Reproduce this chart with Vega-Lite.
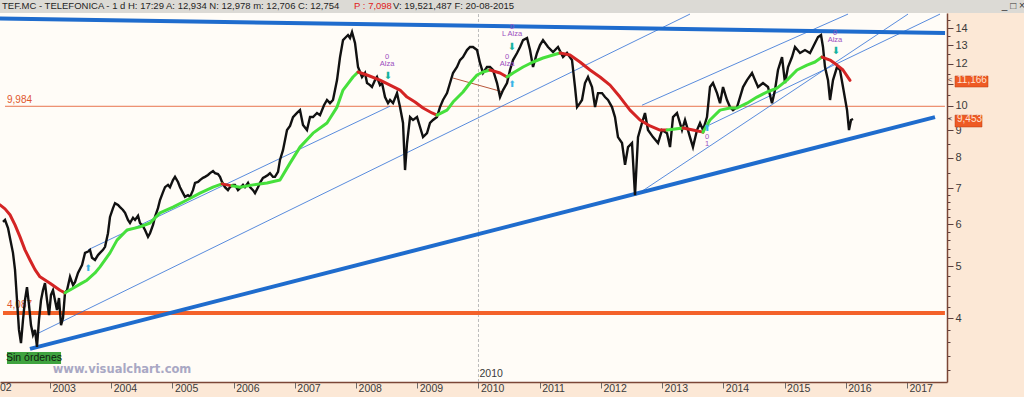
{
"$schema":"https://vega.github.io/schema/vega-lite/v6.json",
"width":947,"height":369,
"autosize":"none",
"padding":{"left":0,"top":13,"right":77,"bottom":15},
"background":"#FCE8D6",
"config":{"view":{"fill":"#FFFCF7","stroke":null},"text":{"font":"Liberation Sans Narrow, Liberation Sans, sans-serif"},
 "axisX":{"grid":false,"domainColor":"#7B4636","domainWidth":1.5,"tickColor":"#6B6B6B","tickSize":6,"labelAlign":"left","labelBaseline":"top","labelPadding":-5,"labelOffset":2,"labelFont":"Liberation Sans Narrow, Liberation Sans, sans-serif","labelFontSize":10.5,"labelColor":"#3A3A3A","labelFlush":false,"labelOverlap":false,"format":"d"},
 "axisY":{"grid":false,"domainColor":"#7B4636","domainWidth":1.5,"tickColor":"#5A4040","labelPadding":2,"labelFont":"Liberation Sans Narrow, Liberation Sans, sans-serif","labelFontSize":11,"labelColor":"#3A3A3A","labelOverlap":false,"labelFlush":false}},
"datasets":{
"precio":[{"t":2002.232,"p":6.06},{"t":2002.265,"p":6.11},{"t":2002.314,"p":5.90},{"t":2002.346,"p":5.65},{"t":2002.395,"p":5.30},{"t":2002.428,"p":4.93},{"t":2002.461,"p":4.32},{"t":2002.493,"p":3.80},{"t":2002.526,"p":3.59},{"t":2002.559,"p":3.97},{"t":2002.591,"p":4.32},{"t":2002.624,"p":4.57},{"t":2002.657,"p":4.23},{"t":2002.689,"p":3.88},{"t":2002.722,"p":3.72},{"t":2002.755,"p":3.80},{"t":2002.787,"p":3.53},{"t":2002.820,"p":3.97},{"t":2002.853,"p":4.32},{"t":2002.885,"p":4.51},{"t":2002.918,"p":4.65},{"t":2002.951,"p":4.32},{"t":2002.984,"p":4.05},{"t":2003.016,"p":4.42},{"t":2003.049,"p":4.51},{"t":2003.082,"p":4.32},{"t":2003.114,"p":4.14},{"t":2003.147,"p":4.36},{"t":2003.180,"p":3.88},{"t":2003.212,"p":4.00},{"t":2003.245,"p":4.46},{"t":2003.278,"p":4.51},{"t":2003.327,"p":4.78},{"t":2003.376,"p":4.61},{"t":2003.408,"p":4.67},{"t":2003.457,"p":4.86},{"t":2003.523,"p":5.03},{"t":2003.572,"p":5.30},{"t":2003.621,"p":5.33},{"t":2003.653,"p":5.37},{"t":2003.686,"p":5.19},{"t":2003.735,"p":5.14},{"t":2003.784,"p":5.25},{"t":2003.817,"p":5.30},{"t":2003.866,"p":5.37},{"t":2003.899,"p":5.44},{"t":2003.947,"p":5.77},{"t":2003.980,"p":6.19},{"t":2004.029,"p":6.43},{"t":2004.062,"p":6.57},{"t":2004.111,"p":6.52},{"t":2004.144,"p":6.46},{"t":2004.192,"p":6.38},{"t":2004.226,"p":6.30},{"t":2004.274,"p":6.11},{"t":2004.307,"p":6.03},{"t":2004.356,"p":6.17},{"t":2004.389,"p":6.11},{"t":2004.438,"p":6.22},{"t":2004.470,"p":6.03},{"t":2004.519,"p":5.95},{"t":2004.552,"p":5.85},{"t":2004.601,"p":5.68},{"t":2004.634,"p":5.77},{"t":2004.683,"p":5.98},{"t":2004.715,"p":6.19},{"t":2004.764,"p":6.43},{"t":2004.797,"p":6.66},{"t":2004.846,"p":6.89},{"t":2004.879,"p":7.04},{"t":2004.928,"p":7.11},{"t":2004.960,"p":7.04},{"t":2005.009,"p":7.26},{"t":2005.042,"p":7.36},{"t":2005.091,"p":7.20},{"t":2005.124,"p":7.04},{"t":2005.173,"p":6.86},{"t":2005.205,"p":6.75},{"t":2005.254,"p":6.80},{"t":2005.287,"p":6.75},{"t":2005.336,"p":6.95},{"t":2005.369,"p":7.17},{"t":2005.418,"p":7.20},{"t":2005.450,"p":7.26},{"t":2005.499,"p":7.33},{"t":2005.532,"p":7.36},{"t":2005.581,"p":7.42},{"t":2005.614,"p":7.48},{"t":2005.663,"p":7.55},{"t":2005.695,"p":7.48},{"t":2005.744,"p":7.45},{"t":2005.777,"p":7.36},{"t":2005.810,"p":7.20},{"t":2005.858,"p":7.04},{"t":2005.907,"p":6.95},{"t":2005.940,"p":7.04},{"t":2005.989,"p":7.11},{"t":2006.022,"p":7.11},{"t":2006.071,"p":6.95},{"t":2006.104,"p":7.01},{"t":2006.153,"p":7.11},{"t":2006.185,"p":7.04},{"t":2006.235,"p":7.17},{"t":2006.267,"p":7.04},{"t":2006.316,"p":6.95},{"t":2006.349,"p":6.86},{"t":2006.398,"p":7.04},{"t":2006.430,"p":7.17},{"t":2006.479,"p":7.33},{"t":2006.512,"p":7.36},{"t":2006.561,"p":7.42},{"t":2006.594,"p":7.48},{"t":2006.643,"p":7.36},{"t":2006.675,"p":7.36},{"t":2006.725,"p":7.52},{"t":2006.757,"p":7.92},{"t":2006.806,"p":8.26},{"t":2006.872,"p":9.01},{"t":2006.921,"p":9.17},{"t":2006.970,"p":9.53},{"t":2007.035,"p":9.70},{"t":2007.084,"p":9.82},{"t":2007.133,"p":9.21},{"t":2007.198,"p":9.01},{"t":2007.248,"p":9.53},{"t":2007.297,"p":9.53},{"t":2007.362,"p":9.70},{"t":2007.411,"p":9.61},{"t":2007.476,"p":10.03},{"t":2007.525,"p":10.26},{"t":2007.574,"p":10.12},{"t":2007.623,"p":10.26},{"t":2007.689,"p":11.18},{"t":2007.738,"p":12.35},{"t":2007.787,"p":13.29},{"t":2007.836,"p":13.47},{"t":2007.868,"p":13.58},{"t":2007.901,"p":13.41},{"t":2007.934,"p":13.76},{"t":2007.983,"p":13.12},{"t":2008.032,"p":11.83},{"t":2008.065,"p":11.58},{"t":2008.097,"p":11.33},{"t":2008.146,"p":11.53},{"t":2008.179,"p":11.04},{"t":2008.228,"p":10.94},{"t":2008.260,"p":10.85},{"t":2008.310,"p":11.18},{"t":2008.342,"p":11.33},{"t":2008.391,"p":10.94},{"t":2008.424,"p":11.04},{"t":2008.473,"p":10.39},{"t":2008.522,"p":10.12},{"t":2008.555,"p":10.26},{"t":2008.604,"p":10.12},{"t":2008.669,"p":10.57},{"t":2008.718,"p":9.95},{"t":2008.767,"p":9.29},{"t":2008.800,"p":7.58},{"t":2008.833,"p":8.52},{"t":2008.882,"p":9.53},{"t":2008.931,"p":9.41},{"t":2008.996,"p":9.53},{"t":2009.045,"p":9.13},{"t":2009.094,"p":8.74},{"t":2009.159,"p":8.89},{"t":2009.208,"p":9.29},{"t":2009.257,"p":9.41},{"t":2009.322,"p":9.53},{"t":2009.371,"p":9.95},{"t":2009.420,"p":10.26},{"t":2009.486,"p":10.57},{"t":2009.535,"p":11.04},{"t":2009.584,"p":11.53},{"t":2009.649,"p":11.83},{"t":2009.698,"p":12.19},{"t":2009.747,"p":12.35},{"t":2009.812,"p":12.73},{"t":2009.861,"p":12.90},{"t":2009.910,"p":12.90},{"t":2009.976,"p":12.73},{"t":2010.025,"p":12.03},{"t":2010.074,"p":11.53},{"t":2010.139,"p":11.83},{"t":2010.188,"p":11.83},{"t":2010.237,"p":11.68},{"t":2010.303,"p":11.04},{"t":2010.352,"p":10.39},{"t":2010.401,"p":10.71},{"t":2010.466,"p":11.04},{"t":2010.515,"p":11.68},{"t":2010.564,"p":12.19},{"t":2010.630,"p":12.57},{"t":2010.679,"p":12.90},{"t":2010.728,"p":13.29},{"t":2010.793,"p":13.41},{"t":2010.842,"p":12.73},{"t":2010.891,"p":11.83},{"t":2010.956,"p":12.57},{"t":2011.005,"p":13.01},{"t":2011.054,"p":13.29},{"t":2011.136,"p":12.90},{"t":2011.218,"p":12.62},{"t":2011.299,"p":12.90},{"t":2011.381,"p":12.35},{"t":2011.446,"p":12.57},{"t":2011.528,"p":12.19},{"t":2011.577,"p":10.85},{"t":2011.610,"p":9.95},{"t":2011.658,"p":10.12},{"t":2011.691,"p":10.26},{"t":2011.740,"p":11.04},{"t":2011.789,"p":11.33},{"t":2011.855,"p":10.85},{"t":2011.904,"p":9.95},{"t":2011.953,"p":10.57},{"t":2012.018,"p":10.57},{"t":2012.067,"p":10.39},{"t":2012.116,"p":10.26},{"t":2012.181,"p":9.95},{"t":2012.230,"p":9.53},{"t":2012.279,"p":8.74},{"t":2012.345,"p":8.52},{"t":2012.394,"p":7.75},{"t":2012.443,"p":8.37},{"t":2012.508,"p":8.52},{"t":2012.557,"p":6.80},{"t":2012.606,"p":8.74},{"t":2012.671,"p":9.29},{"t":2012.720,"p":9.70},{"t":2012.769,"p":9.01},{"t":2012.851,"p":8.74},{"t":2012.933,"p":8.52},{"t":2012.998,"p":9.01},{"t":2013.080,"p":8.89},{"t":2013.129,"p":8.37},{"t":2013.178,"p":9.53},{"t":2013.243,"p":9.70},{"t":2013.325,"p":9.01},{"t":2013.374,"p":9.41},{"t":2013.455,"p":8.74},{"t":2013.504,"p":8.37},{"t":2013.570,"p":9.01},{"t":2013.619,"p":9.29},{"t":2013.668,"p":9.01},{"t":2013.733,"p":9.53},{"t":2013.782,"p":10.85},{"t":2013.831,"p":11.04},{"t":2013.897,"p":10.57},{"t":2013.946,"p":10.12},{"t":2013.995,"p":10.85},{"t":2014.060,"p":10.26},{"t":2014.109,"p":9.95},{"t":2014.158,"p":9.82},{"t":2014.224,"p":9.95},{"t":2014.273,"p":10.39},{"t":2014.322,"p":10.85},{"t":2014.387,"p":11.18},{"t":2014.469,"p":11.53},{"t":2014.518,"p":11.18},{"t":2014.567,"p":10.85},{"t":2014.648,"p":11.04},{"t":2014.730,"p":10.85},{"t":2014.795,"p":10.12},{"t":2014.844,"p":10.71},{"t":2014.893,"p":11.68},{"t":2014.959,"p":12.35},{"t":2015.008,"p":11.04},{"t":2015.057,"p":11.83},{"t":2015.122,"p":12.35},{"t":2015.171,"p":12.90},{"t":2015.253,"p":12.57},{"t":2015.334,"p":12.73},{"t":2015.416,"p":12.57},{"t":2015.498,"p":13.12},{"t":2015.547,"p":13.47},{"t":2015.596,"p":13.58},{"t":2015.628,"p":12.90},{"t":2015.661,"p":11.83},{"t":2015.710,"p":11.18},{"t":2015.743,"p":10.26},{"t":2015.792,"p":11.18},{"t":2015.857,"p":11.83},{"t":2015.906,"p":11.68},{"t":2015.955,"p":10.85},{"t":2016.021,"p":9.82},{"t":2016.053,"p":9.01},{"t":2016.086,"p":9.41},{"t":2016.119,"p":9.45}],
"media":[{"seg":"r1","tr":"baja","t":2002.183,"p":6.52},{"seg":"r1","tr":"baja","t":2002.265,"p":6.41},{"seg":"r1","tr":"baja","t":2002.346,"p":6.25},{"seg":"r1","tr":"baja","t":2002.428,"p":5.98},{"seg":"r1","tr":"baja","t":2002.510,"p":5.68},{"seg":"r1","tr":"baja","t":2002.591,"p":5.37},{"seg":"r1","tr":"baja","t":2002.673,"p":5.14},{"seg":"r1","tr":"baja","t":2002.755,"p":4.93},{"seg":"r1","tr":"baja","t":2002.836,"p":4.78},{"seg":"r1","tr":"baja","t":2003.000,"p":4.65},{"seg":"r1","tr":"baja","t":2003.163,"p":4.51},{"seg":"r1","tr":"baja","t":2003.245,"p":4.46},
{"seg":"g1","tr":"alza","t":2003.245,"p":4.46},{"seg":"g1","tr":"alza","t":2003.376,"p":4.55},{"seg":"g1","tr":"alza","t":2003.490,"p":4.63},{"seg":"g1","tr":"alza","t":2003.604,"p":4.71},{"seg":"g1","tr":"alza","t":2003.735,"p":4.86},{"seg":"g1","tr":"alza","t":2003.817,"p":4.99},{"seg":"g1","tr":"alza","t":2003.980,"p":5.30},{"seg":"g1","tr":"alza","t":2004.095,"p":5.60},{"seg":"g1","tr":"alza","t":2004.258,"p":5.85},{"seg":"g1","tr":"alza","t":2004.470,"p":5.93},{"seg":"g1","tr":"alza","t":2004.634,"p":6.03},{"seg":"g1","tr":"alza","t":2004.797,"p":6.30},{"seg":"g1","tr":"alza","t":2005.009,"p":6.46},{"seg":"g1","tr":"alza","t":2005.238,"p":6.66},{"seg":"g1","tr":"alza","t":2005.450,"p":6.86},{"seg":"g1","tr":"alza","t":2005.663,"p":7.04},{"seg":"g1","tr":"alza","t":2005.810,"p":7.14},
{"seg":"r1b","tr":"baja","t":2005.810,"p":7.14},{"seg":"r1b","tr":"baja","t":2005.973,"p":7.08},
{"seg":"g1b","tr":"alza","t":2005.973,"p":7.08},{"seg":"g1b","tr":"alza","t":2006.104,"p":7.04},{"seg":"g1b","tr":"alza","t":2006.316,"p":7.11},{"seg":"g1b","tr":"alza","t":2006.545,"p":7.17},{"seg":"g1b","tr":"alza","t":2006.757,"p":7.26},{"seg":"g1b","tr":"alza","t":2006.921,"p":7.81},{"seg":"g1b","tr":"alza","t":2007.084,"p":8.37},{"seg":"g1b","tr":"alza","t":2007.297,"p":8.89},{"seg":"g1b","tr":"alza","t":2007.525,"p":9.29},{"seg":"g1b","tr":"alza","t":2007.689,"p":9.95},{"seg":"g1b","tr":"alza","t":2007.787,"p":10.71},{"seg":"g1b","tr":"alza","t":2007.950,"p":11.33},{"seg":"g1b","tr":"alza","t":2008.032,"p":11.58},
{"seg":"r2","tr":"baja","t":2008.032,"p":11.58},{"seg":"r2","tr":"baja","t":2008.179,"p":11.43},{"seg":"r2","tr":"baja","t":2008.391,"p":11.18},{"seg":"r2","tr":"baja","t":2008.555,"p":10.94},{"seg":"r2","tr":"baja","t":2008.718,"p":10.71},{"seg":"r2","tr":"baja","t":2008.833,"p":10.39},{"seg":"r2","tr":"baja","t":2008.963,"p":10.17},{"seg":"r2","tr":"baja","t":2009.094,"p":9.91},{"seg":"r2","tr":"baja","t":2009.241,"p":9.70},{"seg":"r2","tr":"baja","t":2009.322,"p":9.61},
{"seg":"g2","tr":"alza","t":2009.322,"p":9.61},{"seg":"g2","tr":"alza","t":2009.486,"p":9.82},{"seg":"g2","tr":"alza","t":2009.584,"p":10.17},{"seg":"g2","tr":"alza","t":2009.747,"p":10.62},{"seg":"g2","tr":"alza","t":2009.861,"p":11.04},{"seg":"g2","tr":"alza","t":2009.976,"p":11.43},{"seg":"g2","tr":"alza","t":2010.074,"p":11.58},{"seg":"g2","tr":"alza","t":2010.188,"p":11.68},
{"seg":"r3","tr":"baja","t":2010.188,"p":11.68},{"seg":"r3","tr":"baja","t":2010.352,"p":11.53},{"seg":"r3","tr":"baja","t":2010.466,"p":11.33},
{"seg":"g3","tr":"alza","t":2010.466,"p":11.33},{"seg":"g3","tr":"alza","t":2010.564,"p":11.53},{"seg":"g3","tr":"alza","t":2010.728,"p":11.83},{"seg":"g3","tr":"alza","t":2010.891,"p":12.09},{"seg":"g3","tr":"alza","t":2011.054,"p":12.30},{"seg":"g3","tr":"alza","t":2011.218,"p":12.46},{"seg":"g3","tr":"alza","t":2011.332,"p":12.57},
{"seg":"r4","tr":"baja","t":2011.332,"p":12.57},{"seg":"r4","tr":"baja","t":2011.495,"p":12.46},{"seg":"r4","tr":"baja","t":2011.658,"p":12.09},{"seg":"r4","tr":"baja","t":2011.822,"p":11.68},{"seg":"r4","tr":"baja","t":2011.985,"p":11.33},{"seg":"r4","tr":"baja","t":2012.149,"p":10.94},{"seg":"r4","tr":"baja","t":2012.312,"p":10.39},{"seg":"r4","tr":"baja","t":2012.475,"p":9.82},{"seg":"r4","tr":"baja","t":2012.639,"p":9.41},{"seg":"r4","tr":"baja","t":2012.802,"p":9.17},{"seg":"r4","tr":"baja","t":2012.965,"p":9.01},{"seg":"r4","tr":"baja","t":2013.080,"p":9.01},
{"seg":"g4","tr":"alza","t":2013.080,"p":9.01},{"seg":"g4","tr":"alza","t":2013.211,"p":9.05},{"seg":"g4","tr":"alza","t":2013.341,"p":9.09},
{"seg":"r5","tr":"baja","t":2013.341,"p":9.09},{"seg":"r5","tr":"baja","t":2013.504,"p":9.01},{"seg":"r5","tr":"baja","t":2013.668,"p":8.93},
{"seg":"g5","tr":"alza","t":2013.668,"p":8.93},{"seg":"g5","tr":"alza","t":2013.782,"p":9.41},{"seg":"g5","tr":"alza","t":2013.946,"p":9.82},{"seg":"g5","tr":"alza","t":2014.109,"p":9.91},{"seg":"g5","tr":"alza","t":2014.224,"p":9.91},{"seg":"g5","tr":"alza","t":2014.387,"p":10.12},{"seg":"g5","tr":"alza","t":2014.550,"p":10.39},{"seg":"g5","tr":"alza","t":2014.714,"p":10.62},{"seg":"g5","tr":"alza","t":2014.877,"p":10.80},{"seg":"g5","tr":"alza","t":2015.040,"p":11.18},{"seg":"g5","tr":"alza","t":2015.204,"p":11.68},{"seg":"g5","tr":"alza","t":2015.367,"p":11.93},{"seg":"g5","tr":"alza","t":2015.498,"p":12.09},{"seg":"g5","tr":"alza","t":2015.612,"p":12.35},
{"seg":"r6","tr":"baja","t":2015.612,"p":12.35},{"seg":"r6","tr":"baja","t":2015.743,"p":12.19},{"seg":"r6","tr":"baja","t":2015.857,"p":11.93},{"seg":"r6","tr":"baja","t":2015.955,"p":11.68},{"seg":"r6","tr":"baja","t":2016.070,"p":11.17}],
"soporte":[{"id":"techo","t":2002.183,"p":14.59},{"id":"techo","t":2017.622,"p":13.70},{"id":"suelo","t":2002.673,"p":3.50},{"id":"suelo","t":2017.458,"p":9.53}],
"canal":[{"id":"c1","t":2002.755,"p":3.72},{"id":"c1","t":2013.455,"p":14.87},{"id":"c2","t":2003.621,"p":5.37},{"id":"c2","t":2008.555,"p":9.99},{"id":"c3","t":2012.573,"p":6.80},{"id":"c3","t":2017.017,"p":14.87},{"id":"c4","t":2012.671,"p":10.03},{"id":"c4","t":2016.037,"p":14.87},{"id":"c5","t":2013.668,"p":9.09},{"id":"c5","t":2017.540,"p":14.87}],
"tramo":[{"t":2009.584,"p":11.28},{"t":2010.401,"p":10.62}],
"flecha_baja":[{"t":2008.522,"p":11.38},{"t":2010.548,"p":12.90},{"t":2015.841,"p":12.67}],
"flecha_alza":[{"t":2013.733,"p":9.09},{"t":2003.621,"p":4.97},{"t":2010.548,"p":10.99}],
"rotulo":[{"t":2008.506,"p":12.35,"l1":"0","l2":"Alza"},{"t":2010.548,"p":14.05,"l1":"0","l2":"L Alza"},{"t":2010.466,"p":12.35,"l1":"0","l2":"Alza"},{"t":2015.824,"p":13.70,"l1":"0","l2":"Alza"},{"t":2013.733,"p":8.74,"l1":"0","l2":"1"}],
"ultimos":[{"v":11.166},{"v":9.453}]
},
"layer":[
{"data":{"values":[{}]},"mark":{"type":"rect","color":"#DCDAD5"},
 "encoding":{"x":{"datum":2001,"type":"quantitative","title":null,"scale":{"domain":[2002.183,2017.654],"nice":false,"zero":false}},"x2":{"datum":2020},
 "y":{"datum":14.94,"type":"quantitative","title":null,"scale":{"type":"log","domain":[3.034,14.94],"nice":false}},"y2":{"datum":40}}},
{"data":{"values":[{}]},"mark":{"type":"rule","color":"#BDBDBD","strokeDash":[3,2],"strokeWidth":1},
 "encoding":{"x":{"datum":2010,"type":"quantitative","title":null,"scale":{"domain":[2002.183,2017.654],"nice":false,"zero":false}},
 "y":{"datum":3.034,"type":"quantitative","title":null,"scale":{"type":"log","domain":[3.034,14.94],"nice":false}},"y2":{"datum":14.94}}},
{"data":{"values":[{}]},"mark":{"type":"rule","color":"#E8744E","strokeWidth":1},
 "encoding":{"x":{"datum":2002.265,"type":"quantitative","title":null,"scale":{"domain":[2002.183,2017.654],"nice":false,"zero":false}},"x2":{"datum":2017.62},
 "y":{"datum":9.984,"type":"quantitative","title":null,"scale":{"type":"log","domain":[3.034,14.94],"nice":false}}}},
{"data":{"values":[{}]},"mark":{"type":"text","text":"9,984","color":"#E0582E","fontSize":10,"align":"left","baseline":"middle","dy":-6},
 "encoding":{"x":{"datum":2002.297,"type":"quantitative","title":null,"scale":{"domain":[2002.183,2017.654],"nice":false,"zero":false}},
 "y":{"datum":9.984,"type":"quantitative","title":null,"scale":{"type":"log","domain":[3.034,14.94],"nice":false}}}},
{"data":{"values":[{}]},"mark":{"type":"rule","color":"#F4622A","strokeWidth":4},
 "encoding":{"x":{"datum":2002.232,"type":"quantitative","title":null,"scale":{"domain":[2002.183,2017.654],"nice":false,"zero":false}},"x2":{"datum":2017.62},
 "y":{"datum":4.087,"type":"quantitative","title":null,"scale":{"type":"log","domain":[3.034,14.94],"nice":false}}}},
{"data":{"values":[{}]},"mark":{"type":"text","text":"4,087","color":"#E0582E","fontSize":10,"align":"left","baseline":"middle","dy":-8},
 "encoding":{"x":{"datum":2002.297,"type":"quantitative","title":null,"scale":{"domain":[2002.183,2017.654],"nice":false,"zero":false}},
 "y":{"datum":4.087,"type":"quantitative","title":null,"scale":{"type":"log","domain":[3.034,14.94],"nice":false}}}},
{"data":{"name":"canal"},"mark":{"type":"line","color":"#2E6FD6","strokeWidth":0.8},
 "encoding":{"x":{"field":"t","type":"quantitative","title":null,"scale":{"domain":[2002.183,2017.654],"nice":false,"zero":false}},
 "y":{"field":"p","type":"quantitative","title":null,"scale":{"type":"log","domain":[3.034,14.94],"nice":false}},"detail":{"field":"id"}}},
{"data":{"name":"tramo"},"mark":{"type":"line","color":"#B8563A","strokeWidth":1},
 "encoding":{"x":{"field":"t","type":"quantitative","title":null,"scale":{"domain":[2002.183,2017.654],"nice":false,"zero":false}},
 "y":{"field":"p","type":"quantitative","title":null,"scale":{"type":"log","domain":[3.034,14.94],"nice":false}}}},
{"data":{"name":"soporte"},"mark":{"type":"line","color":"#1F6CCD","strokeWidth":4},
 "encoding":{"x":{"field":"t","type":"quantitative","title":null,"scale":{"domain":[2002.183,2017.654],"nice":false,"zero":false}},
 "y":{"field":"p","type":"quantitative","title":null,"scale":{"type":"log","domain":[3.034,14.94],"nice":false}},"detail":{"field":"id"}}},
{"data":{"name":"precio"},"mark":{"type":"line","color":"#111111","strokeWidth":2.4,"strokeJoin":"miter"},
 "encoding":{"x":{"field":"t","type":"quantitative","title":null,"scale":{"domain":[2002.183,2017.654],"nice":false,"zero":false},
   "axis":{"orient":"bottom","title":null,"values":[2003,2004,2005,2006,2007,2008,2009,2010,2011,2012,2013,2014,2015,2016,2017],"format":"d","grid":false}},
 "y":{"field":"p","type":"quantitative","title":null,"scale":{"type":"log","domain":[3.034,14.94],"nice":false},
   "axis":{"orient":"right","title":null,"grid":false,"values":[3.2,3.4,3.6,3.8,4,4.2,4.4,4.6,4.8,5,5.2,5.4,5.6,5.8,6,6.2,6.4,6.6,6.8,7,7.5,8,8.5,9,9.5,10,10.5,11,11.5,12,12.5,13,13.5,14,14.5],
   "labelExpr":"(abs(datum.value-round(datum.value))<0.001 && datum.value!=11) ? format(datum.value,'d') : ''",
   "tickSize":{"condition":{"test":"abs(datum.value-round(datum.value))<0.001","value":6},"value":3}}}}},
{"data":{"name":"media"},"mark":{"type":"line","strokeWidth":3,"strokeCap":"round","strokeJoin":"round"},
 "encoding":{"x":{"field":"t","type":"quantitative","title":null,"scale":{"domain":[2002.183,2017.654],"nice":false,"zero":false}},
 "y":{"field":"p","type":"quantitative","title":null,"scale":{"type":"log","domain":[3.034,14.94],"nice":false}},"detail":{"field":"seg"},
 "color":{"field":"tr","type":"nominal","scale":{"domain":["baja","alza"],"range":["#D42424","#46E03C"]},"legend":null}}},
{"data":{"name":"flecha_baja"},"mark":{"type":"text","text":"⬇","font":"DejaVu Sans","fontSize":10,"color":"#16B3A0","baseline":"middle"},
 "encoding":{"x":{"field":"t","type":"quantitative","title":null,"scale":{"domain":[2002.183,2017.654],"nice":false,"zero":false}},
 "y":{"field":"p","type":"quantitative","title":null,"scale":{"type":"log","domain":[3.034,14.94],"nice":false}}}},
{"data":{"name":"flecha_alza"},"mark":{"type":"text","text":"⬆","font":"DejaVu Sans","fontSize":9,"color":"#3AB4E8","baseline":"middle"},
 "encoding":{"x":{"field":"t","type":"quantitative","title":null,"scale":{"domain":[2002.183,2017.654],"nice":false,"zero":false}},
 "y":{"field":"p","type":"quantitative","title":null,"scale":{"type":"log","domain":[3.034,14.94],"nice":false}}}},
{"data":{"name":"rotulo"},"mark":{"type":"text","fontSize":7.5,"color":"#9B4FC0","baseline":"middle"},
 "encoding":{"x":{"field":"t","type":"quantitative","title":null,"scale":{"domain":[2002.183,2017.654],"nice":false,"zero":false}},
 "y":{"field":"p","type":"quantitative","title":null,"scale":{"type":"log","domain":[3.034,14.94],"nice":false}},"text":{"field":"l1"}}},
{"data":{"name":"rotulo"},"mark":{"type":"text","fontSize":7.5,"color":"#9B4FC0","baseline":"middle","dy":7},
 "encoding":{"x":{"field":"t","type":"quantitative","title":null,"scale":{"domain":[2002.183,2017.654],"nice":false,"zero":false}},
 "y":{"field":"p","type":"quantitative","title":null,"scale":{"type":"log","domain":[3.034,14.94],"nice":false}},"text":{"field":"l2"}}},
{"data":{"name":"ultimos"},"mark":{"type":"text","text":"<","color":"#5A4040","fontSize":8,"align":"center","baseline":"middle"},
 "encoding":{"x":{"datum":2017.703,"type":"quantitative","title":null,"scale":{"domain":[2002.183,2017.654],"nice":false,"zero":false}},
 "y":{"field":"v","type":"quantitative","title":null,"scale":{"type":"log","domain":[3.034,14.94],"nice":false}}}},
{"data":{"values":[{}]},"mark":{"type":"rect","color":"#EE5A24","stroke":"#B83A10","strokeWidth":0.5},
 "encoding":{"x":{"datum":2017.785,"type":"quantitative","title":null,"scale":{"domain":[2002.183,2017.654],"nice":false,"zero":false}},"x2":{"datum":2018.324},
 "y":{"datum":10.85,"type":"quantitative","title":null,"scale":{"type":"log","domain":[3.034,14.94],"nice":false}},"y2":{"datum":11.38}}},
{"data":{"values":[{}]},"mark":{"type":"text","text":"11,166","color":"#FFE2D2","fontSize":10,"align":"left","baseline":"middle","dx":2},
 "encoding":{"x":{"datum":2017.785,"type":"quantitative","title":null,"scale":{"domain":[2002.183,2017.654],"nice":false,"zero":false}},
 "y":{"datum":11.166,"type":"quantitative","title":null,"scale":{"type":"log","domain":[3.034,14.94],"nice":false}}}},
{"data":{"values":[{}]},"mark":{"type":"rect","color":"#EE5A24","stroke":"#B83A10","strokeWidth":0.5},
 "encoding":{"x":{"datum":2017.785,"type":"quantitative","title":null,"scale":{"domain":[2002.183,2017.654],"nice":false,"zero":false}},"x2":{"datum":2018.226},
 "y":{"datum":9.13,"type":"quantitative","title":null,"scale":{"type":"log","domain":[3.034,14.94],"nice":false}},"y2":{"datum":9.61}}},
{"data":{"values":[{}]},"mark":{"type":"text","text":"9,453","color":"#FFE2D2","fontSize":10,"align":"left","baseline":"middle","dx":2},
 "encoding":{"x":{"datum":2017.785,"type":"quantitative","title":null,"scale":{"domain":[2002.183,2017.654],"nice":false,"zero":false}},
 "y":{"datum":9.453,"type":"quantitative","title":null,"scale":{"type":"log","domain":[3.034,14.94],"nice":false}}}},
{"data":{"values":[{}]},"mark":{"type":"rect","color":"#3FA33F"},
 "encoding":{"x":{"datum":2002.297,"type":"quantitative","title":null,"scale":{"domain":[2002.183,2017.654],"nice":false,"zero":false}},"x2":{"datum":2003.18},
 "y":{"datum":3.279,"type":"quantitative","title":null,"scale":{"type":"log","domain":[3.034,14.94],"nice":false}},"y2":{"datum":3.454}}},
{"data":{"values":[{}]},"mark":{"type":"text","text":"Sin órdenes","color":"#102010","fontSize":10.5,"align":"center","baseline":"middle"},
 "encoding":{"x":{"datum":2002.738,"type":"quantitative","title":null,"scale":{"domain":[2002.183,2017.654],"nice":false,"zero":false}},
 "y":{"datum":3.365,"type":"quantitative","title":null,"scale":{"type":"log","domain":[3.034,14.94],"nice":false}}}},
{"data":{"values":[{}]},"mark":{"type":"text","text":"www.visualchart.com","font":"DejaVu Sans","fontWeight":"bold","color":"#A9A8C4","fontSize":11.5,"align":"center","baseline":"middle"},
 "encoding":{"x":{"datum":2004.176,"type":"quantitative","title":null,"scale":{"domain":[2002.183,2017.654],"nice":false,"zero":false}},
 "y":{"datum":3.195,"type":"quantitative","title":null,"scale":{"type":"log","domain":[3.034,14.94],"nice":false}}}},
{"data":{"values":[{}]},"mark":{"type":"text","text":"2010","color":"#3A3A3A","fontSize":10.5,"align":"left","baseline":"middle","dx":1,"dy":-8},
 "encoding":{"x":{"datum":2010,"type":"quantitative","title":null,"scale":{"domain":[2002.183,2017.654],"nice":false,"zero":false}},
 "y":{"datum":3.034,"type":"quantitative","title":null,"scale":{"type":"log","domain":[3.034,14.94],"nice":false}}}},
{"data":{"values":[{}]},"mark":{"type":"text","text":"02","color":"#3A3A3A","fontSize":10.5,"align":"left","baseline":"top","dy":1},
 "encoding":{"x":{"datum":2002.183,"type":"quantitative","title":null,"scale":{"domain":[2002.183,2017.654],"nice":false,"zero":false}},
 "y":{"datum":3.034,"type":"quantitative","title":null,"scale":{"type":"log","domain":[3.034,14.94],"nice":false}}}},
{"data":{"values":[{}]},"mark":{"type":"text","text":"TEF.MC - TELEFONICA -  1 d H: 17:29 A: 12,934 N: 12,978 m: 12,706 C: 12,754","color":"#1F1F1F","fontSize":9.5,"align":"left","baseline":"middle"},
 "encoding":{"x":{"datum":2002.216,"type":"quantitative","title":null,"scale":{"domain":[2002.183,2017.654],"nice":false,"zero":false}},
 "y":{"datum":15.39,"type":"quantitative","title":null,"scale":{"type":"log","domain":[3.034,14.94],"nice":false}}}},
{"data":{"values":[{}]},"mark":{"type":"text","text":"P : 7,098","color":"#E02020","fontSize":9.5,"align":"left","baseline":"middle"},
 "encoding":{"x":{"datum":2007.967,"type":"quantitative","title":null,"scale":{"domain":[2002.183,2017.654],"nice":false,"zero":false}},
 "y":{"datum":15.39,"type":"quantitative","title":null,"scale":{"type":"log","domain":[3.034,14.94],"nice":false}}}},
{"data":{"values":[{}]},"mark":{"type":"text","text":"V: 19,521,487 F: 20-08-2015","color":"#1F1F1F","fontSize":9.5,"align":"left","baseline":"middle"},
 "encoding":{"x":{"datum":2008.603,"type":"quantitative","title":null,"scale":{"domain":[2002.183,2017.654],"nice":false,"zero":false}},
 "y":{"datum":15.39,"type":"quantitative","title":null,"scale":{"type":"log","domain":[3.034,14.94],"nice":false}}}},
{"data":{"values":[{}]},"mark":{"type":"text","text":"_ □ ×","color":"#333333","fontSize":10,"align":"left","baseline":"middle"},
 "encoding":{"x":{"datum":2018.55,"type":"quantitative","title":null,"scale":{"domain":[2002.183,2017.654],"nice":false,"zero":false}},
 "y":{"datum":15.39,"type":"quantitative","title":null,"scale":{"type":"log","domain":[3.034,14.94],"nice":false}}}}
]
}
